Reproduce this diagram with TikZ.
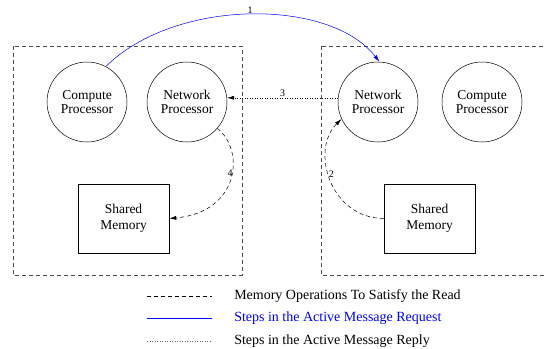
\documentclass[tikz,border=0pt]{standalone}
\usepackage{fontspec}
\setmainfont{Liberation Serif}
\usetikzlibrary{arrows.meta}

\begin{document}
\begin{tikzpicture}[x=1pt, y=-1pt, line width=0.5pt,
    every node/.style={font=\fontsize{13.5}{14}\selectfont},
    proc/.style={draw, circle, minimum size=80pt, inner sep=0pt, align=center},
    mem/.style={draw, minimum width=91pt, minimum height=69pt, align=center,
        font=\fontsize{13.5}{16}\selectfont},
    site/.style={draw=black!70, dash pattern=on 4pt off 3pt},
    memop/.style={dash pattern=on 4pt off 3pt},
    num/.style={font=\fontsize{10}{10}\selectfont, inner sep=1pt},
    key/.style={anchor=west, inner sep=0pt, font=\fontsize{14}{14}\selectfont},
    >={Latex[length=7pt,width=4pt]}]
    \useasboundingbox (0,0) rectangle (545,348);
    % the two sites
    \draw[site] (13,46) rectangle (242,275);
    \draw[site] (321,46) rectangle (560,275);
    \node[proc] (cpL) at (87,102) {Compute\\Processor};
    \node[proc] (npL) at (187,102) {Network\\Processor};
    \node[proc] (npR) at (378,102) {Network\\Processor};
    \node[proc] (cpR) at (482,102) {Compute\\Processor};
    \node[mem] (smL) at (123.5,218.5) {Shared\\Memory};
    \node[mem] (smR) at (429.5,218.5) {Shared\\Memory};
    % steps
    \draw[->, blue] (cpL.62) .. controls (175,-2) and (330,-2) .. (npR.88)
        node[num, black, pos=0.5, above] {1};
    \draw[->, memop] (smR.west) .. controls (330,218) and (310,150) .. (npR.205)
        node[num, pos=0.55, right=-1pt] {2};
    \draw[->, dotted] (npR.174) -- (npL.6) node[num, midway, above] {3};
    \draw[->, memop] (npL.-41) .. controls (245,150) and (240,212) .. (smL.east)
        node[num, pos=0.45, left=-2pt] {4};
    % legend
    \coordinate (k1a) at (147,296); \coordinate (k1b) at (212,296);
    \coordinate (k2a) at (147,318); \coordinate (k2b) at (212,318);
    \coordinate (k3a) at (147,341); \coordinate (k3b) at (212,341);
    \draw[memop] (k1a) -- (k1b);
    \draw[blue] (k2a) -- (k2b);
    \draw[dotted, black!60] (k3a) -- (k3b);
    \node[key] (memtxt) at (234,296) {Memory Operations To Satisfy the Read};
    \node[key, blue] (reqtxt) at (234,318) {Steps in the Active Message Request};
    \node[key] (reptxt) at (234,341) {Steps in the Active Message Reply};
\end{tikzpicture}
\end{document}
